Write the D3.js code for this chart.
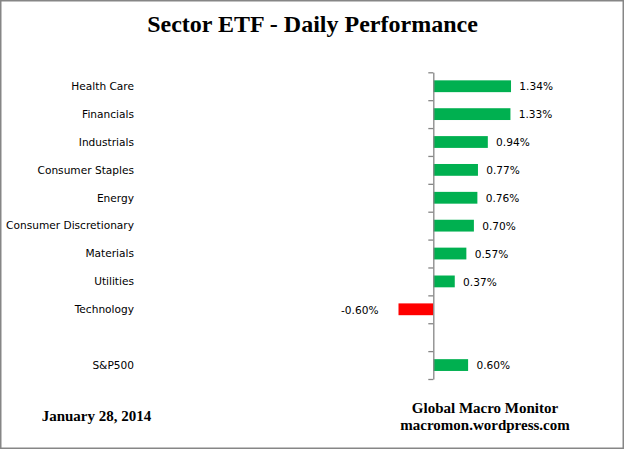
<!DOCTYPE html>
<html>
<head>
<meta charset="utf-8">
<script src="https://cdn.jsdelivr.net/npm/d3@7"></script>
<style>
  body { margin: 0; background: #fff; }
  svg { display: block; }
</style>
</head>
<body>
<svg id="chart" width="626" height="455"></svg>
<script>
// sector names, top to bottom; the empty one is the gap before the index
const sectors = ['Health Care', 'Financials', 'Industrials', 'Consumer Staples', 'Energy',
  'Consumer Discretionary', 'Materials', 'Utilities', 'Technology', '', 'S&P500'];
// daily change in percent (null = no bar)
const changes = [1.34, 1.33, 0.94, 0.77, 0.76, 0.70, 0.57, 0.37, -0.60, null, 0.60];

const titleText = 'Sector ETF - Daily Performance';
const dateText = 'January 28, 2014';
const sourceLines = ['Global Macro Monitor', 'macromon.wordpress.com'];

const svg = d3.select('#chart');

// outer frame
svg.append('rect')
  .attr('x', 0.75).attr('y', 0.75)
  .attr('width', 622.5).attr('height', 447.5)
  .attr('fill', '#fff')
  .attr('stroke', '#868686')
  .attr('stroke-width', 1.5);

svg.append('text')
  .attr('x', 312.5).attr('y', 31.7)
  .attr('text-anchor', 'middle')
  .style('font-family', '"Liberation Serif", "Times New Roman", serif')
  .style('font-weight', 'bold')
  .style('font-size', '24px')
  .text(titleText);

// scales: zero sits at x=433.3, about 58px per 1%
const xScale = d3.scaleLinear().domain([-1, 1.5]).range([375.3, 520.3]);
const yScale = d3.scaleBand().domain(d3.range(sectors.length)).range([72.3, 379]).paddingInner(0).paddingOuter(0);
// same vertical span, used only for tick marks between categories
const yEdge = d3.scaleLinear().domain([0, sectors.length]).range([72.3, 379]);

const barH = 11.8;
const rows = sectors.map((s, i) => ({ name: s, v: changes[i], i }));
const withBars = rows.filter((d) => d.v !== null);

svg.selectAll('rect.bar')
  .data(withBars)
  .enter()
  .append('rect')
  .classed('bar', true)
  .attr('x', (d) => xScale(Math.min(0, d.v)))
  .attr('y', (d) => yScale(d.i) + yScale.bandwidth() / 2 - barH / 2)
  .attr('width', (d) => Math.abs(xScale(d.v) - xScale(0)))
  .attr('height', barH)
  .attr('fill', (d) => (d.v < 0 ? '#ff0000' : '#00b050'));

// vertical axis with ticks on category boundaries
const yAxis = d3.axisLeft(yEdge).ticks(sectors.length).tickSize(5).tickSizeOuter(0).tickFormat('');
const axisG = svg.append('g')
  .attr('transform', `translate(${xScale(0)} 0)`)
  .call(yAxis);
axisG.selectAll('path, line').attr('stroke', '#868686').attr('stroke-width', 1.3);

const labelFont = '"DejaVu Sans", Verdana, sans-serif';

// category labels, right-aligned in the left margin
svg.selectAll('text.cat')
  .data(rows)
  .enter()
  .append('text')
  .classed('cat', true)
  .attr('x', 134)
  .attr('y', (d) => yScale(d.i) + yScale.bandwidth() / 2)
  .attr('dy', '0.36em')
  .attr('text-anchor', 'end')
  .style('font-family', labelFont)
  .style('font-size', '10.6px')
  .attr('fill', '#000')
  .text((d) => d.name);

// value labels
svg.selectAll('text.val')
  .data(withBars)
  .enter()
  .append('text')
  .classed('val', true)
  .attr('x', (d) => (d.v < 0 ? xScale(d.v) - 20 : xScale(d.v) + 8.3))
  .attr('y', (d) => yScale(d.i) + yScale.bandwidth() / 2)
  .attr('dy', '0.4em')
  .attr('text-anchor', (d) => (d.v < 0 ? 'end' : 'start'))
  .style('font-family', labelFont)
  .style('font-size', '10.6px')
  .attr('fill', '#000')
  .text((d) => `${d.v.toFixed(2)}%`);

const footFont = '"Liberation Serif", "Times New Roman", serif';

svg.append('text')
  .attr('x', 41.7).attr('y', 421)
  .style('font-family', footFont)
  .style('font-weight', 'bold')
  .style('font-size', '15px')
  .text(dateText);

svg.selectAll('text.src')
  .data(sourceLines)
  .enter()
  .append('text')
  .classed('src', true)
  .attr('x', 485)
  .attr('y', (d, i) => 413.3 + i * 16.7)
  .attr('text-anchor', 'middle')
  .style('font-family', footFont)
  .style('font-weight', 'bold')
  .style('font-size', '15px')
  .text((d) => d);
</script>
</body>
</html>
